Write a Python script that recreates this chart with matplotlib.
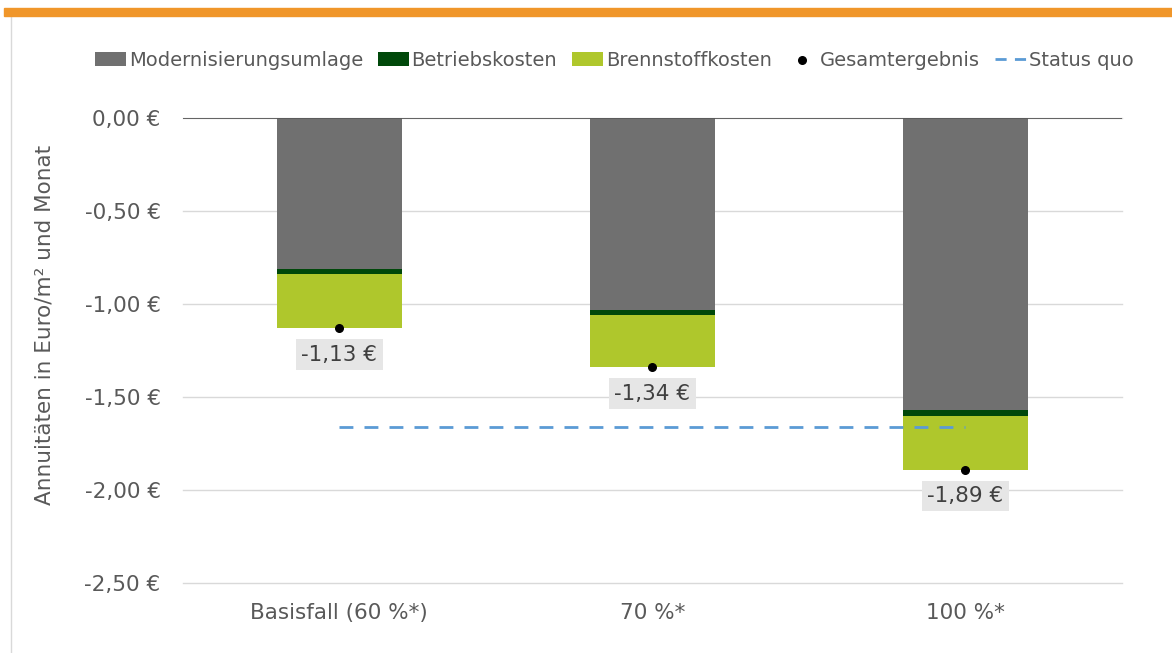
import matplotlib.pyplot as plt
import numpy as np
from matplotlib.patches import Rectangle
from matplotlib.lines import Line2D

# data
categories = ["Basisfall (60 %*)", "70 %*", "100 %*"]
modernisierung = np.array([-0.81, -1.03, -1.57])
betrieb = np.array([-0.03, -0.03, -0.03])
brennstoff = np.array([-0.29, -0.28, -0.29])
gesamt = np.array([-1.13, -1.34, -1.89])
status_quo = np.array([-1.66, -1.66, -1.66])

c_grey = '#707070'
c_dark = '#00480A'
c_lime = '#AFC72C'
c_blue = '#5B9BD5'
c_text = '#595959'

plt.rcParams['font.family'] = 'DejaVu Sans'

fig = plt.figure(figsize=(11.72, 6.53), dpi=100)
ax = fig.add_axes([0.156, 0.107, 0.801, 0.712])

x = np.arange(len(categories))
w = 0.4
b1 = ax.bar(x, modernisierung, w, color=c_grey, zorder=2)
b2 = ax.bar(x, betrieb, w, bottom=modernisierung, color=c_dark, zorder=2)
b3 = ax.bar(x, brennstoff, w, bottom=modernisierung + betrieb, color=c_lime, zorder=2)
sc = ax.scatter(x, gesamt, color='black', s=30, zorder=4)
ax.plot(x, status_quo, color=c_blue, linestyle=(0, (5, 4)), linewidth=2, zorder=3)

for xi, v in zip(x, gesamt):
    txt = ('%.2f €' % v).replace('.', ',')
    ax.annotate(txt, (xi, v), xytext=(0, -19), textcoords='offset points',
                ha='center', va='center', fontsize=15.5, color='#404040',
                bbox=dict(boxstyle='square,pad=0.25', fc='#E6E6E6', ec='none'), zorder=5)

ticks = np.arange(-2.5, 0.01, 0.5)
ax.set_xlim(-0.5, 2.5)
ax.set_ylim(-2.5, 0)
ax.set_yticks(ticks)
ax.set_yticklabels([('%.2f €' % t).replace('.', ',') for t in ticks])
ax.set_xticks(x)
ax.set_xticklabels(categories)
ax.tick_params(axis='both', length=0, labelsize=15.5, labelcolor=c_text)
ax.tick_params(axis='x', pad=14)
ax.tick_params(axis='y', pad=16)
ax.grid(axis='y', color='#D9D9D9', linewidth=1, zorder=0)
for gl in ax.get_ygridlines():
    gl.set_clip_on(False)
for s in ax.spines.values():
    s.set_visible(False)
ax.axhline(0, color='#595959', linewidth=1.3, zorder=3)
ax.set_ylabel('Annuitäten in Euro/m² und Monat', fontsize=15.5, color=c_text)
ax.yaxis.set_label_coords(-0.137, 0.555)

sq = Line2D([], [], color=c_blue, linestyle=(0, (4, 3)), linewidth=2)
fig.legend([b1, b2, b3, sc, sq],
           ['Modernisierungsumlage', 'Betriebskosten', 'Brennstoffkosten', 'Gesamtergebnis', 'Status quo'],
           loc='center', bbox_to_anchor=(0.524, 0.908), ncol=5,
           frameon=False, fontsize=14, handlelength=1.6, handletextpad=0.15,
           columnspacing=0.75, labelcolor=c_text)

# orange band at top and thin frame line at left
fig.patches.append(Rectangle((0.003, 0.976), 0.997, 0.012, transform=fig.transFigure,
                             color='#F0962A', zorder=10))
fig.lines.append(Line2D([0.009, 0.009], [0, 0.976], transform=fig.transFigure,
                        color='#D9D9D9', linewidth=1))

fig.savefig('out.png', dpi=100)
